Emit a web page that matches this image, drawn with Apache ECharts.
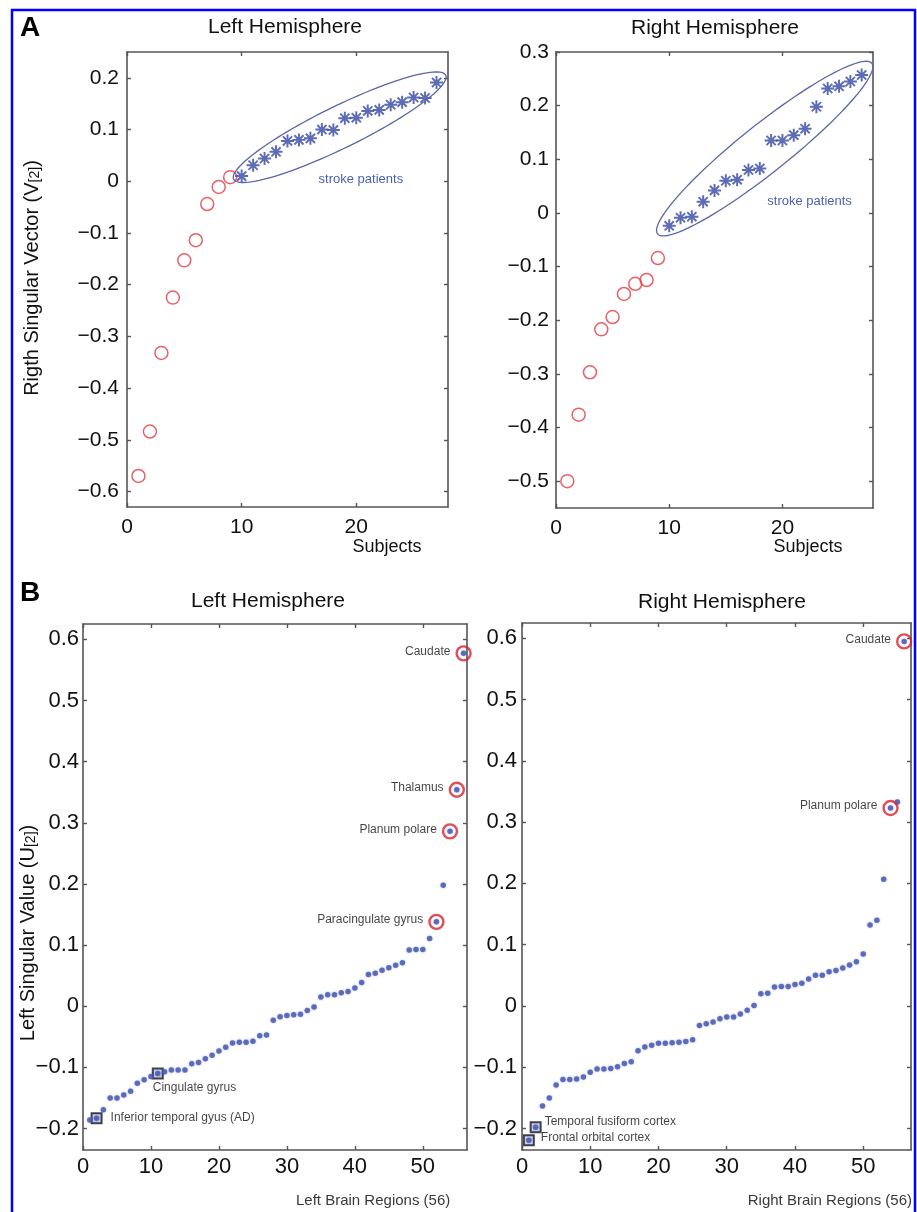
<!DOCTYPE html>
<html>
<head>
<meta charset="utf-8">
<script src="https://cdn.jsdelivr.net/npm/echarts@6/dist/echarts.min.js"></script>
<style>
html,body{margin:0;padding:0;background:#fff;}
#c{width:917px;height:1212px;}
</style>
</head>
<body>
<div id="c"></div>
<script>
// ---------------- DATA ----------------
// Panel A: right singular vector V[2] per subject (controls = red circles, stroke patients = blue asterisks)
const aLeftControls  = [-0.570, -0.484, -0.332, -0.225, -0.153, -0.114, -0.044, -0.011, 0.008];
const aLeftStroke    = [0.010, 0.031, 0.044, 0.057, 0.078, 0.080, 0.083, 0.100, 0.099, 0.122, 0.123, 0.136, 0.138, 0.148, 0.153, 0.162, 0.161, 0.191];
const aRightControls = [-0.500, -0.376, -0.297, -0.217, -0.194, -0.151, -0.132, -0.125, -0.084];
const aRightStroke   = [-0.024, -0.009, -0.007, 0.021, 0.042, 0.060, 0.062, 0.080, 0.083, 0.135, 0.135, 0.145, 0.157, 0.198, 0.232, 0.236, 0.245, 0.257];
const aXTicks        = [0, 10, 20];
const aYTicksLeft    = [-0.6, -0.5, -0.4, -0.3, -0.2, -0.1, 0, 0.1, 0.2];
const aYTicksRight   = [-0.5, -0.4, -0.3, -0.2, -0.1, 0, 0.1, 0.2, 0.3];

// Panel B: left singular vector U[2] per brain region (56 regions, sorted)
const bLeftValues = [-0.186, -0.183, -0.169, -0.150, -0.150, -0.145, -0.139, -0.126, -0.120, -0.115,
                     -0.110, -0.107, -0.104, -0.104, -0.104, -0.094, -0.092, -0.086, -0.080, -0.073,
                     -0.067, -0.060, -0.059, -0.059, -0.057, -0.048, -0.047, -0.023, -0.017, -0.015,
                     -0.014, -0.013, -0.007, -0.001, 0.015, 0.019, 0.019, 0.022, 0.024, 0.030,
                     0.039, 0.052, 0.054, 0.059, 0.063, 0.067, 0.071, 0.092, 0.093, 0.093,
                     0.111, 0.138, 0.198, 0.286, 0.354, 0.577];
const bRightValues = [-0.219, -0.198, -0.163, -0.150, -0.129, -0.120, -0.120, -0.119, -0.116, -0.108,
                      -0.103, -0.103, -0.102, -0.099, -0.094, -0.091, -0.073, -0.067, -0.064, -0.061,
                      -0.061, -0.060, -0.059, -0.058, -0.055, -0.032, -0.029, -0.026, -0.021, -0.018,
                      -0.018, -0.013, -0.007, 0.001, 0.020, 0.021, 0.031, 0.032, 0.032, 0.035,
                      0.037, 0.044, 0.050, 0.050, 0.056, 0.058, 0.062, 0.067, 0.072, 0.085,
                      0.132, 0.140, 0.207, 0.323, 0.333, 0.595];
const bXTicks = [0, 10, 20, 30, 40, 50];
const bYTicks = [-0.2, -0.1, 0, 0.1, 0.2, 0.3, 0.4, 0.5, 0.6];

const bLeftCircled       = [56, 55, 54, 52];
const bLeftCircledNames  = ['Caudate', 'Thalamus', 'Planum polare', 'Paracingulate gyrus'];
const bLeftBoxed         = [2, 11];
const bLeftBoxedNames    = ['Inferior temporal gyus (AD)', 'Cingulate gyrus'];
const bRightCircled      = [56, 54];
const bRightCircledNames = ['Caudate', 'Planum polare'];
const bRightBoxed        = [2, 1];
const bRightBoxedNames   = ['Temporal fusiform cortex', 'Frontal orbital cortex'];

// ---------------- STYLE ----------------
const FONT = '"Liberation Sans", Arial, Helvetica, sans-serif';
const AXIS_C = '#555555';
const TXT_C = '#111111';
const RED = '#e23a44';
const RED_B = '#d6232c';
const BLUE = '#3447a2';
const DOT = '#4656b0';
const STAR = 'path://M8.5,0L11.5,0L11.5,20L8.5,20Z M0,8.5L20,8.5L20,11.5L0,11.5Z M3.99,1.87L18.13,16.01L16.01,18.13L1.87,3.99Z M1.87,16.01L16.01,1.87L18.13,3.99L3.99,18.13Z';

const grids = [
  {left: 127, top: 52, width: 321, height: 455},
  {left: 556, top: 52, width: 317, height: 456},
  {left: 83,  top: 624, width: 384, height: 526},
  {left: 522, top: 623, width: 389, height: 527}
];
const axisSpec = [
  {x: [0, 28],   y: [-0.63, 0.25],  xt: aXTicks, yt: aYTicksLeft,  fs: 21, xm: 10, ym: 8},
  {x: [0, 28],   y: [-0.55, 0.30],  xt: aXTicks, yt: aYTicksRight, fs: 21, xm: 10, ym: 7},
  {x: [0, 56.5], y: [-0.235, 0.625], xt: bXTicks, yt: bYTicks,     fs: 22, xm: 6,  ym: 4},
  {x: [0, 57],   y: [-0.235, 0.625], xt: bXTicks, yt: bYTicks,     fs: 22, xm: 6,  ym: 5}
];

function fmt(v) {
  const r = Math.round(v * 10) / 10;
  return r < 0 ? '\u2212' + String(Math.abs(r)) : String(r);
}

const xAxes = [], yAxes = [];
axisSpec.forEach((s, gi) => {
  const line = {show: true, onZero: false, lineStyle: {color: AXIS_C, width: 1.6}};
  const tick = (vals) => ({show: true, inside: true, length: 4, customValues: vals, lineStyle: {color: AXIS_C, width: 1.4}});
  ['bottom', 'top'].forEach((pos) => {
    xAxes.push({
      type: 'value', gridIndex: gi, position: pos, min: s.x[0], max: s.x[1],
      axisLine: line, axisTick: tick(s.xt), splitLine: {show: false},
      axisLabel: pos === 'bottom'
        ? {show: true, customValues: s.xt, formatter: fmt, fontSize: s.fs, fontFamily: FONT, color: TXT_C, margin: s.xm}
        : {show: false}
    });
  });
  ['left', 'right'].forEach((pos) => {
    yAxes.push({
      type: 'value', gridIndex: gi, position: pos, min: s.y[0], max: s.y[1],
      axisLine: line, axisTick: tick(s.yt), splitLine: {show: false},
      axisLabel: pos === 'left'
        ? {show: true, customValues: s.yt, formatter: fmt, fontSize: s.fs, fontFamily: FONT, color: TXT_C, margin: s.ym}
        : {show: false}
    });
  });
});

function ax(gi) { return {xAxisIndex: gi * 2, yAxisIndex: gi * 2}; }

const series = [];
// Panel A
series.push(Object.assign({type: 'scatter', name: 'aLc', symbol: 'circle', symbolSize: 13,
  itemStyle: {color: 'rgba(0,0,0,0)', borderColor: RED, borderWidth: 1.5},
  data: aLeftControls.map((v, i) => [i + 1, v])}, ax(0)));
series.push(Object.assign({type: 'scatter', name: 'aLs', symbol: STAR, symbolSize: 13,
  itemStyle: {color: BLUE},
  data: aLeftStroke.map((v, i) => [i + 1 + aLeftControls.length, v])}, ax(0)));
series.push(Object.assign({type: 'scatter', name: 'aRc', symbol: 'circle', symbolSize: 13,
  itemStyle: {color: 'rgba(0,0,0,0)', borderColor: RED, borderWidth: 1.5},
  data: aRightControls.map((v, i) => [i + 1, v])}, ax(1)));
series.push(Object.assign({type: 'scatter', name: 'aRs', symbol: STAR, symbolSize: 13,
  itemStyle: {color: BLUE},
  data: aRightStroke.map((v, i) => [i + 1 + aRightControls.length, v])}, ax(1)));

// Panel B
function boxSeries(gi, idxs, names, values, labelPos) {
  return Object.assign({type: 'scatter', symbol: 'rect', symbolSize: 10, z: 2,
    itemStyle: {color: 'rgba(160,172,220,0.7)', borderColor: '#15151f', borderWidth: 2},
    label: {show: true, formatter: '{b}', fontSize: 12, fontFamily: FONT, color: '#141414', align: 'left', verticalAlign: 'middle'},
    data: idxs.map((ix, k) => ({name: names[k], value: [ix, values[ix - 1]], label: {position: labelPos[k]}}))}, ax(gi));
}
function dotSeries(gi, values) {
  return Object.assign({type: 'scatter', symbol: 'circle', symbolSize: 5.5, z: 3,
    itemStyle: {color: DOT, shadowBlur: 2, shadowColor: 'rgba(70,90,180,0.6)'},
    data: values.map((v, i) => [i + 1, v])}, ax(gi));
}
function ringSeries(gi, idxs, names, values) {
  return Object.assign({type: 'scatter', symbol: 'circle', symbolSize: 14, z: 4,
    itemStyle: {color: 'rgba(0,0,0,0)', borderColor: RED_B, borderWidth: 2.4},
    label: {show: true, position: 'left', distance: 5, offset: [0, -2], formatter: '{b}', fontSize: 12, fontFamily: FONT, color: '#141414'},
    data: idxs.map((ix, k) => ({name: names[k], value: [ix, values[ix - 1]]}))}, ax(gi));
}
series.push(boxSeries(2, bLeftBoxed, bLeftBoxedNames, bLeftValues, [[20, 5], [1, 20]]));
series.push(dotSeries(2, bLeftValues));
series.push(ringSeries(2, bLeftCircled, bLeftCircledNames, bLeftValues));
series.push(boxSeries(3, bRightBoxed, bRightBoxedNames, bRightValues, [[15, 0], [18, 3]]));
series.push(dotSeries(3, bRightValues));
series.push(ringSeries(3, bRightCircled, bRightCircledNames, bRightValues));

const chart = echarts.init(document.getElementById('c'), null, {renderer: 'canvas'});
chart.setOption({
  animation: false,
  backgroundColor: '#ffffff',
  grid: grids.map(g => Object.assign({containLabel: false}, g)),
  xAxis: xAxes,
  yAxis: yAxes,
  series: series
});

// ---------------- ANNOTATIONS ----------------
const aLeftEllipse  = {from: [9.3, 0.004], to: [27.8, 0.205], halfWidth: 21};
const aRightEllipse = {from: [8.97, -0.039], to: [27.9, 0.279], halfWidth: 24};

function ellipsePoints(seriesIndex, e) {
  const p0 = chart.convertToPixel({seriesIndex: seriesIndex}, e.from);
  const p1 = chart.convertToPixel({seriesIndex: seriesIndex}, e.to);
  const cx = (p0[0] + p1[0]) / 2, cy = (p0[1] + p1[1]) / 2;
  const dx = p1[0] - p0[0], dy = p1[1] - p0[1];
  const a = Math.sqrt(dx * dx + dy * dy) / 2, b = e.halfWidth;
  const th = Math.atan2(dy, dx);
  const pts = [];
  for (let k = 0; k < 120; k++) {
    const t = 2 * Math.PI * k / 120;
    const ex = a * Math.cos(t), ey = b * Math.sin(t);
    pts.push([cx + ex * Math.cos(th) - ey * Math.sin(th), cy + ex * Math.sin(th) + ey * Math.cos(th)]);
  }
  return pts;
}

function txt(x, y, text, size, extra) {
  return {type: 'text', x: x, y: y, z: 10,
    style: Object.assign({text: text, font: size + 'px ' + FONT, fill: TXT_C, align: 'center', verticalAlign: 'middle'}, extra || {})};
}

const spL = chart.convertToPixel({seriesIndex: 1}, [20.4, 0.004]);
const spR = chart.convertToPixel({seriesIndex: 3}, [22.4, 0.021]);

const graphics = [
  {type: 'rect', z: 0, shape: {x: 12, y: 10, width: 903, height: 1260}, style: {fill: 'none', stroke: '#0000ff', lineWidth: 2.5}},
  {type: 'polygon', z: 5, shape: {points: ellipsePoints(1, aLeftEllipse)}, style: {fill: 'none', stroke: '#5b66a8', lineWidth: 1.3}},
  {type: 'polygon', z: 5, shape: {points: ellipsePoints(3, aRightEllipse)}, style: {fill: 'none', stroke: '#5b66a8', lineWidth: 1.3}},
  txt(spL[0], spL[1], 'stroke patients', 13, {fill: '#4b5fb5'}),
  txt(spR[0], spR[1], 'stroke patients', 13, {fill: '#4b5fb5'}),
  txt(30, 28, 'A', 28, {font: 'bold 28px ' + FONT, fill: '#000'}),
  txt(30, 593, 'B', 28, {font: 'bold 28px ' + FONT, fill: '#000'}),
  txt(285, 27, 'Left Hemisphere', 21),
  txt(715, 28, 'Right Hemisphere', 21),
  txt(268, 601, 'Left Hemisphere', 21),
  txt(722, 602, 'Right Hemisphere', 21),
  txt(387, 547, 'Subjects', 18),
  txt(808, 547, 'Subjects', 18),
  txt(296, 1201, 'Left Brain Regions (56)', 15, {align: 'left', fill: '#3a3a3a'}),
  txt(912, 1201, 'Right Brain Regions (56)', 15, {align: 'right', fill: '#3a3a3a'}),
  {type: 'text', x: 31, y: 278, rotation: Math.PI / 2, z: 10,
    style: {text: '{n|Rigth Singular Vector (V}{s|[2]}{n|)}', align: 'center', verticalAlign: 'middle',
      rich: {n: {font: '20px ' + FONT, fill: TXT_C, lineHeight: 22, verticalAlign: 'bottom'},
             s: {font: '14px ' + FONT, fill: TXT_C, lineHeight: 22, verticalAlign: 'bottom'}}}},
  {type: 'text', x: 27, y: 933, rotation: Math.PI / 2, z: 10,
    style: {text: '{n|Left Singular Value (U}{s|[2]}{n|)}', align: 'center', verticalAlign: 'middle',
      rich: {n: {font: '20px ' + FONT, fill: TXT_C, lineHeight: 22, verticalAlign: 'bottom'},
             s: {font: '14px ' + FONT, fill: TXT_C, lineHeight: 22, verticalAlign: 'bottom'}}}}
];
chart.setOption({graphic: graphics});
</script>
</body>
</html>
